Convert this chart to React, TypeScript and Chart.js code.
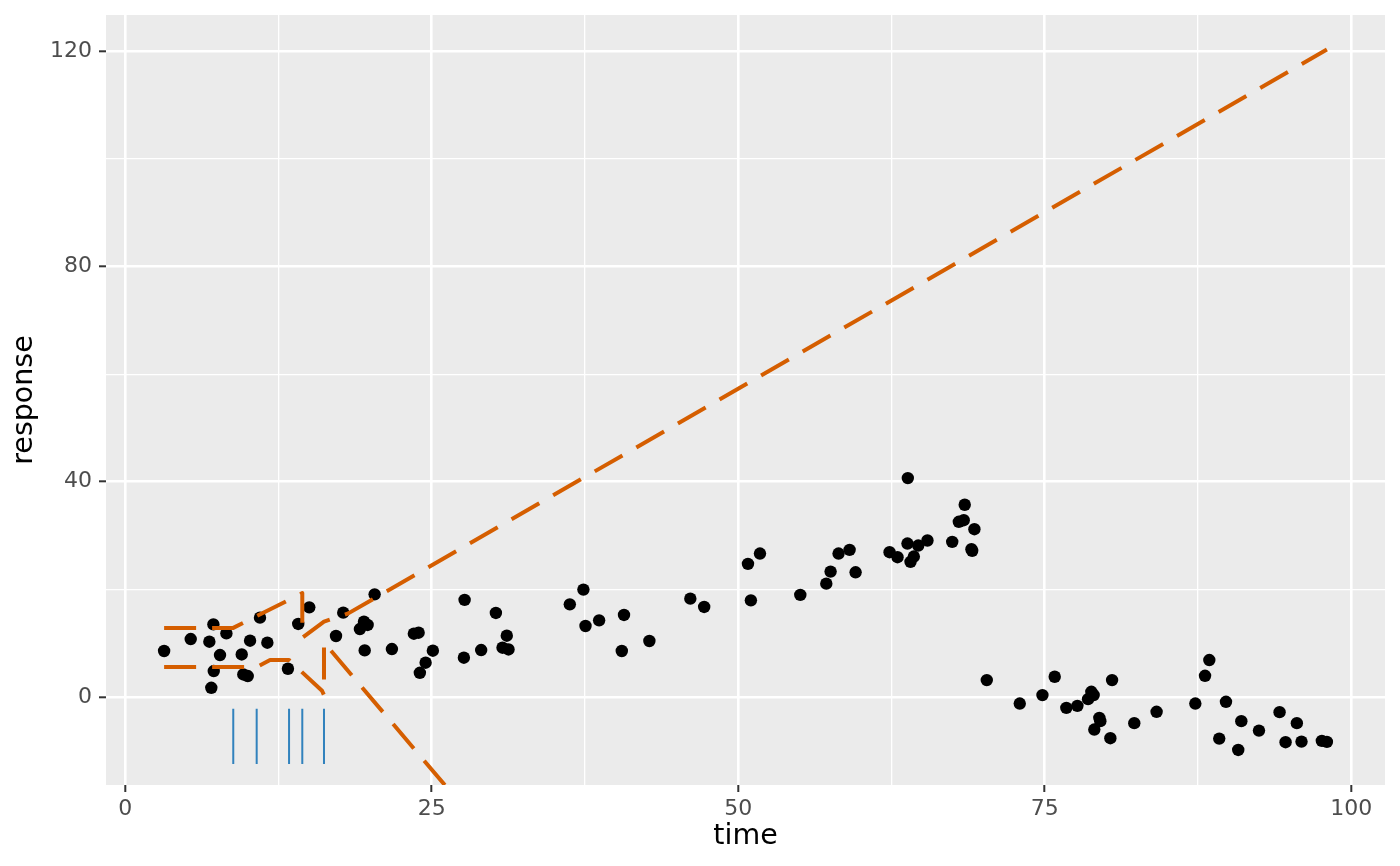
import React, { useEffect, useRef } from 'react'
import { Chart, registerables } from 'chart.js'

Chart.register(...registerables)

// observed points
const time = [
  3.18, 5.35, 6.87, 7.2, 7.23, 7.03, 7.74, 8.26, 9.51, 9.64,
  10.0, 10.19, 11.0, 11.6, 13.28, 14.12, 15.02, 17.2, 17.79, 19.15,
  19.48, 19.78, 19.54, 20.35, 21.76, 23.55, 23.94, 24.04, 24.51, 25.1,
  27.69, 27.63, 29.04, 30.24, 30.78, 31.13, 31.27, 36.27, 37.38, 37.55,
  38.66, 40.69, 40.51, 42.76, 46.1, 47.23, 50.8, 51.78, 51.04, 55.07,
  57.19, 57.54, 58.19, 59.09, 59.58, 62.35, 63.0, 63.84, 63.81, 64.06,
  64.33, 64.69, 65.44, 67.46, 68.0, 68.4, 68.48, 69.27, 69.03, 69.09,
  70.28, 72.97, 74.82, 75.82, 76.77, 77.67, 78.54, 78.81, 79.0, 79.46,
  79.54, 79.05, 80.5, 80.36, 82.31, 84.13, 87.29, 88.08, 88.43, 89.79,
  89.24, 91.04, 90.79, 92.48, 94.16, 95.57, 94.65, 95.95, 97.61, 98.02,
]
const response = [
  8.52, 10.75, 10.25, 13.47, 4.79, 1.68, 7.77, 11.79, 7.88, 4.16,
  3.86, 10.43, 14.72, 10.06, 5.22, 13.55, 16.64, 11.31, 15.65, 12.61,
  13.97, 13.36, 8.63, 19.06, 8.89, 11.74, 11.92, 4.47, 6.34, 8.57,
  18.02, 7.27, 8.7, 15.6, 9.13, 11.37, 8.81, 17.2, 19.94, 13.17,
  14.22, 15.22, 8.52, 10.38, 18.26, 16.71, 24.73, 26.64, 17.94, 18.95,
  21.05, 23.29, 26.64, 27.33, 23.16, 26.89, 25.96, 40.68, 28.51, 25.1,
  26.09, 28.13, 29.07, 28.82, 32.55, 32.85, 35.72, 31.17, 27.45, 27.15,
  3.11, -1.25, 0.32, 3.73, -2.05, -1.68, -0.43, 0.93, 0.32, -3.91,
  -4.53, -6.09, 3.11, -7.7, -4.9, -2.79, -1.25, 3.91, 6.84, -0.93,
  -7.77, -4.53, -9.88, -6.28, -2.85, -4.9, -8.44, -8.33, -8.2, -8.38,
]

// dashed bounds
const upperX = [3.18, 8.82, 14.45, 14.45, 16.22, 18.2, 98.02]
const upperY = [12.82, 12.82, 19.28, 11.0, 13.97, 15.52, 120.37]
const lowerX = [3.18, 10.73, 11.82, 13.37, 16.06, 16.22, 16.22, 98.02]
const lowerY = [5.53, 5.53, 6.84, 6.84, 1.12, 0.32, 10.1, -209.9]

// breakpoint marks
const rugX = [8.82, 10.73, 13.37, 14.45, 16.22]
const rugTop = -2.2
const rugBottom = -12.5

const xMajor = [0, 25, 50, 75, 100]
const xMinor = [12.5, 37.5, 62.5, 87.5]
const yMajor = [0, 40, 80, 120]
const yMinor = [20, 60, 100]

const FONT = "'DejaVu Sans', sans-serif"

const panelBg = {
  id: 'panelBg',
  beforeDraw(chart: Chart) {
    const { ctx, chartArea: a } = chart
    ctx.save()
    ctx.fillStyle = '#EBEBEB'
    ctx.fillRect(a.left, a.top, a.right - a.left, a.bottom - a.top)
    ctx.restore()
  },
}

const gridFor = (major: number[]) => ({
  color: '#FFFFFF',
  lineWidth: (c: any) => (major.includes(c.tick?.value) ? 2.6 : 1.3),
  tickLength: 7,
  tickWidth: 2,
  tickColor: (c: any) => (major.includes(c.tick?.value) ? '#333333' : 'rgba(0,0,0,0)'),
})

export default function App() {
  const ref = useRef<HTMLCanvasElement>(null)

  useEffect(() => {
    document.body.style.margin = '0'
    if (!ref.current) return

    const points = time.map((t, i) => ({ x: t, y: response[i] }))
    const upper = upperX.map((x, i) => ({ x, y: upperY[i] }))
    const lower = lowerX.map((x, i) => ({ x, y: lowerY[i] }))
    const rug: { x: number; y: number | null }[] = []
    rugX.forEach((x) => {
      rug.push({ x, y: rugTop }, { x, y: rugBottom }, { x, y: null })
    })

    const lineStyle = {
      showLine: true,
      borderColor: '#D55E00',
      borderWidth: 4,
      borderDash: [32, 16],
      borderCapStyle: 'butt' as const,
      borderJoinStyle: 'round' as const,
      pointRadius: 0,
      pointHoverRadius: 0,
      fill: false,
      tension: 0,
      clip: 0,
      order: 0,
    }

    const chart = new Chart(ref.current, {
      type: 'scatter',
      data: {
        datasets: [
          { ...lineStyle, label: 'upper', data: upper },
          { ...lineStyle, label: 'lower', data: lower },
          {
            label: 'breaks',
            data: rug as any,
            showLine: true,
            spanGaps: false,
            borderColor: '#3182BD',
            borderWidth: 2,
            pointRadius: 0,
            pointHoverRadius: 0,
            order: 1,
          },
          {
            label: 'response',
            data: points,
            backgroundColor: '#000000',
            borderWidth: 0,
            pointRadius: 6.2,
            pointHoverRadius: 6.2,
            order: 2,
          },
        ],
      },
      options: {
        animation: false,
        responsive: false,
        events: [],
        layout: { padding: { top: 15, right: 15, left: 0, bottom: 0 } },
        plugins: { legend: { display: false }, tooltip: { enabled: false } },
        scales: {
          x: {
            type: 'linear',
            min: -1.56,
            max: 102.76,
            afterBuildTicks: (s: any) => {
              s.ticks = [...xMajor, ...xMinor].sort((a, b) => a - b).map((v) => ({ value: v }))
            },
            afterFit: (s: any) => {
              s.height = 81
              s.paddingLeft = 0
              s.paddingRight = 0
            },
            border: { display: false },
            grid: gridFor(xMajor),
            ticks: {
              autoSkip: false,
              maxRotation: 0,
              padding: 4,
              color: '#4D4D4D',
              font: { family: FONT, size: 22 },
              callback: (v: any) => (xMajor.includes(v) ? String(v) : ''),
            },
            title: {
              display: true,
              text: 'time',
              color: '#000000',
              font: { family: FONT, size: 28.5 },
              padding: { top: 0, bottom: 12 },
            },
          },
          y: {
            type: 'linear',
            min: -16.4,
            max: 126.8,
            afterBuildTicks: (s: any) => {
              s.ticks = [...yMajor, ...yMinor].sort((a, b) => a - b).map((v) => ({ value: v }))
            },
            afterFit: (s: any) => {
              s.width = 106
              s.paddingTop = 0
              s.paddingBottom = 0
            },
            border: { display: false },
            grid: gridFor(yMajor),
            ticks: {
              autoSkip: false,
              padding: 7,
              color: '#4D4D4D',
              font: { family: FONT, size: 22 },
              callback: (v: any) => (yMajor.includes(v) ? String(v) : ''),
            },
            title: {
              display: true,
              text: 'response',
              color: '#000000',
              font: { family: FONT, size: 28.5 },
              padding: { top: 7, bottom: 0 },
            },
          },
        },
      },
      plugins: [panelBg],
    })

    return () => {
      chart.destroy()
    }
  }, [])

  return (
    <div style={{ width: 1400, height: 866 }}>
      <canvas ref={ref} width={1400} height={866} style={{ display: 'block' }}></canvas>
    </div>
  )
}
